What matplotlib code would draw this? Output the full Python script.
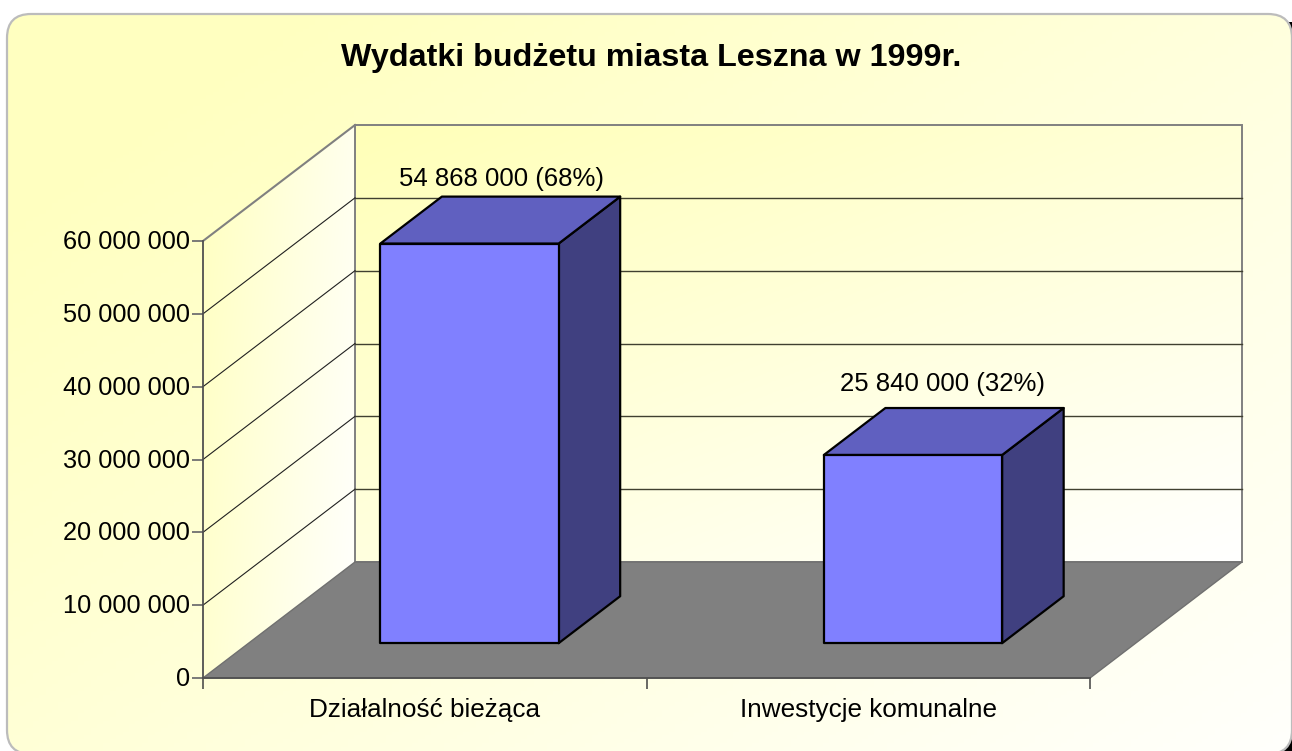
import numpy as np
import matplotlib
matplotlib.use('Agg')
import matplotlib.pyplot as plt
from matplotlib.patches import FancyBboxPatch, Polygon, Rectangle
from matplotlib.transforms import ScaledTranslation

plt.rcParams['font.family'] = ['Liberation Sans', 'DejaVu Sans']

categories = ['Działalność bieżąca', 'Inwestycje komunalne']
values = [54868000, 25840000]
bar_labels = ['54 868 000 (68%)', '25 840 000 (32%)']
y_ticks = [0, 10000000, 20000000, 30000000, 40000000, 50000000, 60000000]
y_tick_labels = ['0', '10 000 000', '20 000 000', '30 000 000', '40 000 000', '50 000 000', '60 000 000']
title = 'Wydatki budżetu miasta Leszna w 1999r.'

W, H = 1292, 751
# plot front plane in pixels
X0, X1, Y0, Y1 = 203, 1090, 678, 241
# depth of the box in pixels
DEPTH_X, DEPTH_Y = 152, 116

fig = plt.figure(figsize=(W / 100, H / 100), dpi=100, facecolor='white')

def gradient(c0, c1, ax_weight=0.5, start=0.0, nx=200, ny=200):
    xx, yy = np.meshgrid(np.linspace(0, 1, nx), np.linspace(0, 1, ny))
    t = (ax_weight * xx + (1 - ax_weight) * yy)
    t = np.clip((t - start) / (1 - start), 0, 1)[..., None]
    c0 = np.array(matplotlib.colors.to_rgb(c0))
    c1 = np.array(matplotlib.colors.to_rgb(c1))
    return c0 * (1 - t) + c1 * t

# panel background, its lower corners run off the picture
bg = fig.add_axes([0, 0, 1, 1])
bg.axis('off')
bg.add_patch(Rectangle((1268, 733), 24, 18, fc='black', ec='none', zorder=0))
bg.add_patch(Rectangle((1286, 22), 6, 12, fc='black', ec='none', zorder=0))
panel_box = dict(boxstyle='round,pad=0,rounding_size=24')
img = bg.imshow(gradient('#ffffc0', '#fffffc', ax_weight=0.55, start=0.12), extent=(7, 1292, 754, 14), aspect='auto', zorder=1)
clip = FancyBboxPatch((7, 14), 1285, 740, fc='none', ec='none', transform=bg.transData, **panel_box)
bg.add_patch(clip)
img.set_clip_path(clip)
# nearly clear face: an unfilled path running off the canvas gets its curves broken
bg.add_patch(FancyBboxPatch((7, 14), 1285, 740, fc=(1, 1, 1, 0.004), ec='#bcbcbc', lw=1.6, zorder=3, **panel_box))
bg.set_xlim(0, W)
bg.set_ylim(H, 0)

ax = fig.add_axes([X0 / W, 1 - Y0 / H, (X1 - X0) / W, (Y0 - Y1) / H])
ax.patch.set_alpha(0)

# depth expressed in data units
dx = DEPTH_X / ((X1 - X0) / 2)
dy = DEPTH_Y / ((Y0 - Y1) / 60000000)

def P(c, v, d=0.0):
    return (c + d * dx, v + d * dy)

top = y_ticks[-1]

# side wall and back wall
side = Polygon([P(0, 0), P(0, 0, 1), P(0, top, 1), P(0, top)], fc='none', ec='none')
ax.add_patch(side)
im = ax.imshow(gradient('#ffffc0', '#ffffff', ax_weight=0.72), extent=(0, dx, 0, top + dy), aspect='auto', origin='upper', zorder=1)
im.set_clip_box(fig.bbox)
im.set_clip_path(side)
back = Polygon([P(0, 0, 1), P(2, 0, 1), P(2, top, 1), P(0, top, 1)], fc='none', ec='#808080', lw=1.4, zorder=2, clip_on=False)
ax.add_patch(back)
im2 = ax.imshow(gradient('#ffffb8', '#ffffff', ax_weight=0.45), extent=(dx, 2 + dx, dy, top + dy), aspect='auto', origin='upper', zorder=1)
im2.set_clip_box(fig.bbox)
im2.set_clip_path(back)
ax.set_xlim(0, 2)
ax.set_ylim(0, 60000000)

# floor
floor = Polygon([P(0, 0), P(2, 0), P(2, 0, 1), P(0, 0, 1)], fc='#808080', ec='#707070', lw=1, zorder=3, clip_on=False)
ax.add_patch(floor)

# gridlines on walls
for v in y_ticks[1:-1]:
    ax.plot(*zip(P(0, v), P(0, v, 1)), color='#202020', lw=0.8, zorder=2.5, clip_on=False)
    ax.plot(*zip(P(0, v, 1), P(2, v, 1)), color='#404030', lw=1.0, zorder=2.5, clip_on=False)
ax.plot(*zip(P(0, top), P(0, top, 1)), color='#808080', lw=1.5, zorder=2.5, clip_on=False)

# bars
bar_w = 0.402
d0, d1 = 0.30, 0.705
label_shift = [(-30, 6), (-32, 12)]
for i, v in enumerate(values):
    c = i + 0.5 - 0.002
    l = c - bar_w / 2
    r = c + bar_w / 2
    kw = dict(ec='black', lw=1.6, joinstyle='round', zorder=5, clip_on=False)
    ax.add_patch(Polygon([P(r, 0, d0), P(r, 0, d1), P(r, v, d1), P(r, v, d0)], fc='#404080', **kw))
    ax.add_patch(Polygon([P(l, v, d0), P(r, v, d0), P(r, v, d1), P(l, v, d1)], fc='#6060c0', **kw))
    ax.add_patch(Polygon([P(l, 0, d0), P(r, 0, d0), P(r, v, d0), P(l, v, d0)], fc='#8080ff', **kw))
    ax.annotate(bar_labels[i], P(c, v, d1), xytext=label_shift[i], textcoords='offset pixels', ha='center', va='bottom',
                fontsize=18.5, color='black', zorder=6, annotation_clip=False)

# axes
for s in ['top', 'right']:
    ax.spines[s].set_visible(False)
for s in ['left', 'bottom']:
    ax.spines[s].set_color('#505050')
    ax.spines[s].set_linewidth(1.3)
    ax.spines[s].set_zorder(6)
ax.set_yticks(y_ticks)
ax.set_yticklabels(y_tick_labels)
ax.set_xticks([0, 1, 2])
ax.set_xticklabels([])
ax.set_xticks([0.5, 1.5], minor=True)
ax.set_xticklabels(categories, minor=True)
ax.tick_params(axis='y', labelsize=18.3, length=8, width=1.3, color='#707070', pad=1.5)
ax.tick_params(axis='x', which='major', length=8, width=1.1, color='#404040')
ax.tick_params(axis='x', which='minor', length=0, labelsize=18.8, pad=14.5)

# tick labels sit a little above their ticks
nudge = ScaledTranslation(0, 1.5 / 100, fig.dpi_scale_trans)
for lab in ax.get_yticklabels():
    lab.set_transform(lab.get_transform() + nudge)

fig.text(651 / W, 1 - 58 / H, title, ha='center', va='center', fontsize=23.2, fontweight='bold', color='black')

fig.savefig('out.png', dpi=100)
